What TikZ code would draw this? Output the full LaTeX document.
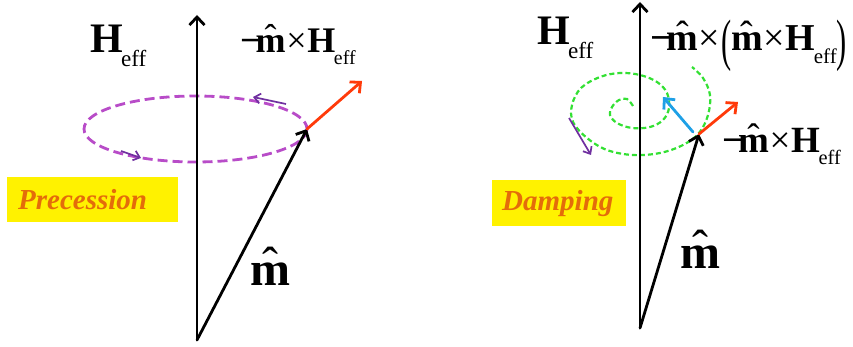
\documentclass[tikz,border=0pt]{standalone}
\usepackage{fontspec}
\setmainfont{Liberation Serif}
\usetikzlibrary{arrows.meta}
\definecolor{ringpurple}{HTML}{B84CC8}
\definecolor{tipviolet}{HTML}{7030A0}
\definecolor{torquered}{HTML}{FF3A0A}
\definecolor{dampblue}{HTML}{1EA0E6}
\definecolor{spiralgreen}{HTML}{33E033}
\definecolor{tagorange}{HTML}{E46C0A}
\newcommand{\Heff}{\textbf{H}\kern-.04em\raisebox{-.32em}{\scalebox{.55}{eff}}}
\newcommand{\mvec}{\ooalign{\textbf{m}\cr\hidewidth\raisebox{.1em}{ˆ}\hidewidth\cr}}
\newcommand{\mneg}{\textbf{−}\kern-.14em}
\newcommand{\crs}{\kern.02em×\kern.02em}
\newcommand{\tallp}[1]{\raisebox{-.22em}{\scalebox{.8}[1.5]{\mdseries #1}}}

\begin{document}
\begin{tikzpicture}[x=1pt, y=-1pt,
  >={Straight Barb[length=8pt,width=15pt]},
  vec/.style={->, line width=2.8pt, line cap=round},
  small/.style={->, >={Straight Barb[length=6pt,width=10pt]}, line width=1.7pt, tipviolet},
  lbl/.style={inner sep=0pt, anchor=base west},
  tag/.style={fill=yellow, anchor=north west, align=left, inner ysep=0pt,
    text=tagorange, font=\fontsize{29}{32}\selectfont\bfseries\itshape}
]
\useasboundingbox (0,0) rectangle (853,347);

% precession
\coordinate (o1) at (197,340);
\coordinate (z1) at (197,15);
\coordinate (m1) at (307,129);
\coordinate (t1) at (362,81);
\draw[ringpurple, line width=2.8pt, dash pattern=on 10pt off 5pt] (195.5,129) ellipse [x radius=111.5, y radius=33];
\draw[vec] (o1) -- (z1);
\draw[vec] (o1) -- (m1);
\draw[vec, torquered] (m1) -- (t1);
\coordinate (a1) at (286,104);
\coordinate (b1) at (253,97);
\coordinate (a2) at (121,151);
\coordinate (b2) at (141,158);
\draw[small] (a1) -- (b1);
\draw[small] (a2) -- (b2);
\node[lbl, font=\fontsize{42}{46}\selectfont] (hleft) at (90,53) {\Heff};
\node[lbl, font=\fontsize{36}{40}\selectfont] (pleft) at (240,53) {\mneg\mvec\crs\Heff};
\node[lbl, font=\fontsize{48}{52}\selectfont] (mleft) at (250,285) {\mvec};
\node[tag, minimum width=171pt, minimum height=45pt, inner xsep=11pt, text width=149pt] (prec) at (7,177) {Precession};

% damping
\coordinate (o2) at (640,328);
\coordinate (z2) at (640,2);
\coordinate (m2) at (699,134);
\coordinate (t2) at (738,102);
\coordinate (d2) at (693,132);
\coordinate (e2) at (663,97);
\draw[spiralgreen, line width=2.2pt, dash pattern=on 5pt off 3pt] plot[smooth, tension=.6] coordinates {
  (633,106) (627,99) (619,100) (612,107) (610,115) (617,123) (632,128) (650,127)
  (663,120) (669,108) (667,93) (657,82) (640,75) (620,73) (600,77) (581,88)
  (572,105) (573,122) (587,138) (607,150) (633,155) (660,153) (683,145) (699,133)
  (708,115) (710,95) (703,78) (692,67)};
\draw[vec] (o2) -- (z2);
\draw[vec] (o2) -- (m2);
\draw[vec, torquered] (m2) -- (t2);
\draw[vec, dampblue] (d2) -- (e2);
\coordinate (a3) at (569,118);
\coordinate (b3) at (591,155);
\draw[small] (a3) -- (b3);
\node[lbl, font=\fontsize{42}{46}\selectfont] (hright) at (537,45) {\Heff};
\node[lbl, font=\fontsize{38}{42}\selectfont] (dright) at (650,51) {\mneg\mvec\crs\tallp{(}\mvec\crs\Heff\tallp{)}};
\node[lbl, font=\fontsize{37}{40}\selectfont] (pright) at (722,153) {\mneg\mvec\crs\Heff};
\node[lbl, font=\fontsize{48}{52}\selectfont] (mright) at (680,268) {\mvec};
\node[tag, minimum width=134pt, minimum height=46pt, inner xsep=10pt, text width=114pt] (damp) at (492,180) {Damping};
\end{tikzpicture}
\end{document}
